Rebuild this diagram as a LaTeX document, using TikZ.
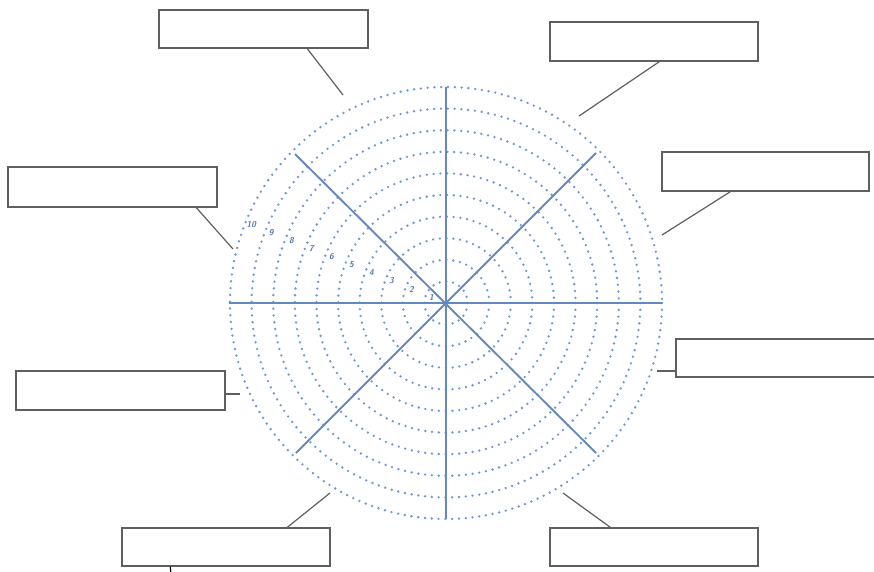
\documentclass[tikz,border=0pt]{standalone}
\usepackage{tikz}
\usetikzlibrary{calc}
\definecolor{axisblue}{RGB}{100,137,190}
\definecolor{dotblue}{RGB}{110,150,208}
\definecolor{labblue}{RGB}{85,122,180}
\definecolor{boxgray}{RGB}{95,95,95}
\tikzset{
  labelbox/.style={draw=boxgray, line width=1.4pt, fill=white, minimum width=208pt, minimum height=38pt, inner sep=0pt},
  leader/.style={draw=boxgray, line width=1.2pt},
  ring/.style={draw=dotblue, line width=2.6pt, line cap=round, dash pattern=on 0pt off 6.8pt},
  axis/.style={draw=axisblue, line width=1.9pt},
  ringlabel/.style={text=labblue, font=\sffamily\bfseries\itshape\fontsize{8.5}{9}\selectfont, inner sep=0pt}
}
\begin{document}
\begin{tikzpicture}[x=1pt,y=-1pt]
\useasboundingbox (0,0) rectangle (874,571);
\fill[white] (0,0) rectangle (874,571);
\coordinate (O) at (446,303);
% rings
\foreach \k in {1,...,10} {
  \draw[ring] (O) circle[radius={21.6*\k}];
}
% axes
\coordinate (E) at (662,303);
\coordinate (W) at (229,303);
\coordinate (N) at (446,87);
\coordinate (S) at (446,519);
\coordinate (NE) at ($(O)+(150,-150)$);
\coordinate (SW) at ($(O)+(-150,150)$);
\coordinate (NW) at ($(O)+(-151,-149)$);
\coordinate (SE) at ($(O)+(150,150)$);
\draw[axis] (W) -- (E);
\draw[axis] (N) -- (S);
\draw[axis] (NE) -- (SW);
\draw[axis] (NW) -- (SE);
% ring labels
\foreach \k in {1,...,10} {
  \node[ringlabel] (l\k) at ($(O)+({cos(158)*(21.6*\k-6)},{-sin(158)*(21.6*\k-6)})$) {\k};
}
% boxes
\node[labelbox, minimum width=209pt] (b1) at (263.5,29) {};
\node[labelbox, minimum height=39pt] (b2) at (654,41.5) {};
\node[labelbox, minimum width=209pt, minimum height=40pt] (b3) at (112.5,187) {};
\node[labelbox, minimum width=207pt, minimum height=39pt] (b4) at (765.5,171.5) {};
\node[labelbox] (b5) at (780,358) {};
\node[labelbox, minimum width=209pt, minimum height=39pt] (b6) at (120.5,390.5) {};
\node[labelbox] (b7) at (226,547) {};
\node[labelbox] (b8) at (654,547) {};
% leader ends
\coordinate (e1) at (343,95);
\coordinate (e2) at (579,116);
\coordinate (e3) at (233,249);
\coordinate (e4) at (662,235);
\coordinate (e5) at (657,371);
\coordinate (e6) at (240,394);
\coordinate (e7) at (330,493);
\coordinate (e8) at (563,493);
\coordinate (e9) at (171,575);
\draw[leader] ([xshift=149pt]b1.south west) -- (e1);
\draw[leader] ([xshift=110pt]b2.south west) -- (e2);
\draw[leader] ([xshift=189pt]b3.south west) -- (e3);
\draw[leader] ([xshift=69pt]b4.south west) -- (e4);
\draw[leader] ([yshift=-13pt]b5.west) -- (e5);
\draw[leader] ([yshift=-3.5pt]b6.east) -- (e6);
\draw[leader] ([xshift=166pt]b7.north west) -- (e7);
\draw[leader] ([xshift=61pt]b8.north west) -- (e8);
\draw[leader, draw=black] ([xshift=49pt]b7.south west) -- (e9);
\end{tikzpicture}
\end{document}
